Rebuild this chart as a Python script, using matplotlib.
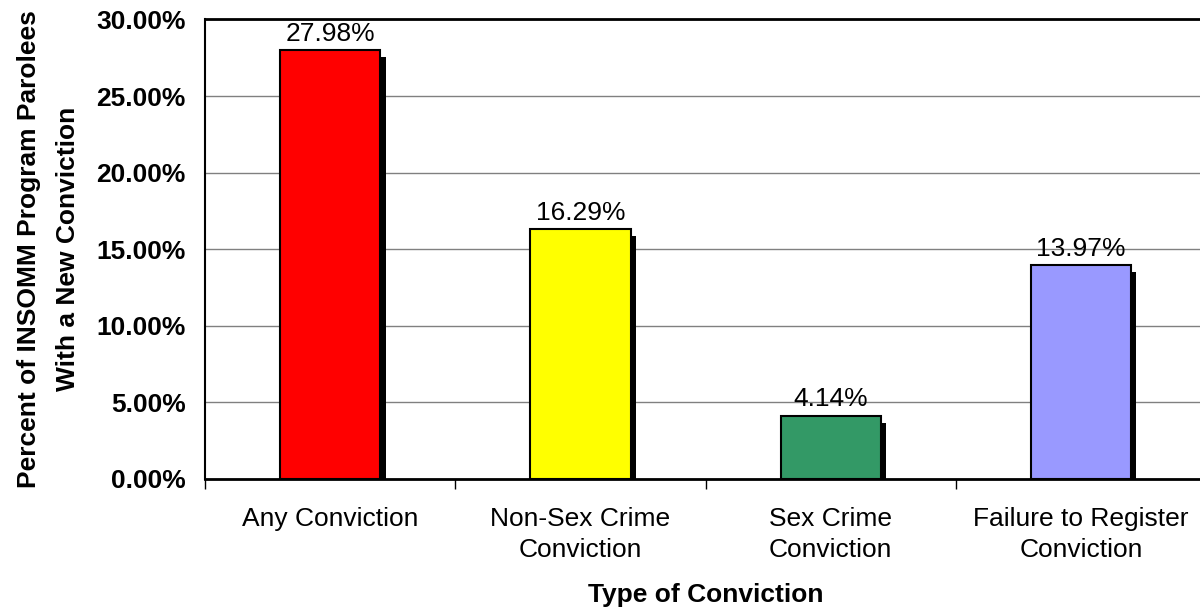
import matplotlib.pyplot as plt
import matplotlib.patheffects as pe
from matplotlib.ticker import FuncFormatter, MultipleLocator

plt.rcParams['font.family'] = ['Liberation Sans', 'DejaVu Sans']

categories = ['Any Conviction', 'Non-Sex Crime\nConviction',
              'Sex Crime\nConviction', 'Failure to Register\nConviction']
rates = [27.98, 16.29, 4.14, 13.97]
colors = ['#FF0000', '#FFFF00', '#339966', '#9999FF']

FS = 19

fig = plt.figure(figsize=(12, 6.09), dpi=100)
ax = fig.add_axes([0.171, 0.2135, 0.834, 0.7545])

x = range(len(categories))
bars = ax.bar(x, rates, width=0.4, color=colors, edgecolor='black',
              linewidth=1.5, zorder=3)
for b in bars:
    b.set_path_effects([pe.SimplePatchShadow(offset=(4, -5), shadow_rgbFace='black', alpha=1),
                        pe.Normal()])

for xi, v in zip(x, rates):
    ax.annotate(f'{v:.2f}%', (xi, v), xytext=(0, 3), textcoords='offset points',
                ha='center', va='bottom', fontsize=FS)

ax.set_xlim(-0.5, 3.5)
ax.set_ylim(0, 30)
ax.yaxis.set_major_locator(MultipleLocator(5))
ax.yaxis.set_major_formatter(FuncFormatter(lambda v, _: f'{v:.2f}%'))
ax.grid(axis='y', color='#808080', linewidth=1, zorder=0)
ax.set_axisbelow(True)

ax.set_xticks(list(x))
ax.set_xticklabels(categories, fontsize=FS, linespacing=1.38)
ax.set_xticks([-0.5, 0.5, 1.5, 2.5, 3.5], minor=True)
ax.tick_params(axis='x', which='major', length=0, pad=20)
ax.tick_params(axis='x', which='minor', length=7, width=1, direction='out')
ax.tick_params(axis='y', length=0, pad=14, labelsize=FS)
for lbl in ax.get_yticklabels():
    lbl.set_fontweight('bold')

ax.spines['right'].set_visible(False)
ax.spines['top'].set_linewidth(2)
ax.spines['bottom'].set_linewidth(2)
ax.spines['left'].set_linewidth(1.5)

ax.set_xlabel('Type of Conviction', fontsize=FS, fontweight='bold', labelpad=15)
ax.set_ylabel('Percent of INSOMM Program Parolees\nWith a New Conviction',
              fontsize=FS, fontweight='bold', labelpad=12, linespacing=1.75)

fig.savefig('out.png', dpi=100)
